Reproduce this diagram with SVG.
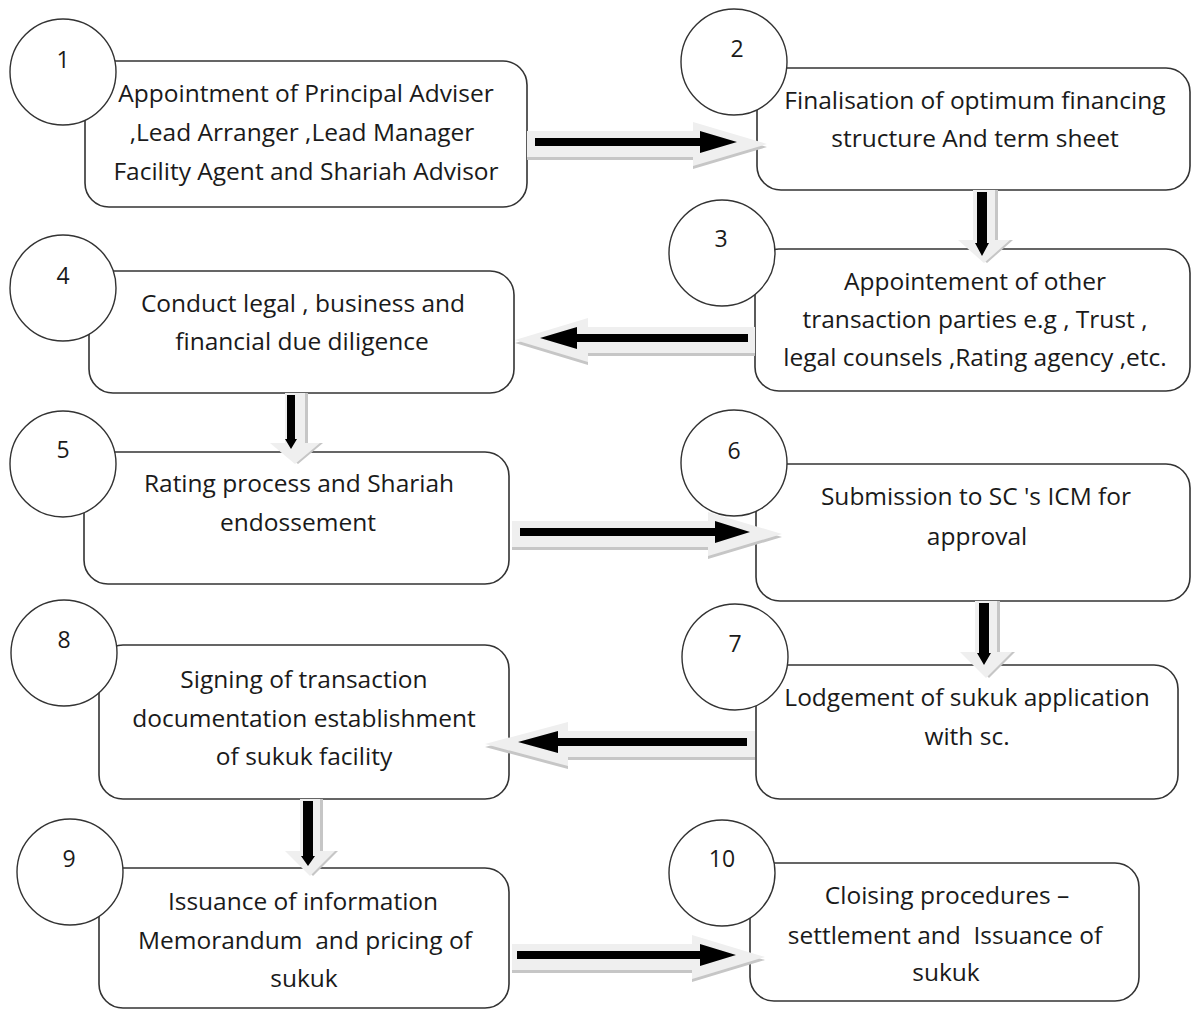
<svg xmlns="http://www.w3.org/2000/svg" xmlns:xlink="http://www.w3.org/1999/xlink" width="1191" height="1009" viewBox="0 0 1191 1009">
<style>
.box{fill:#fff;stroke:#333;stroke-width:1.6}
.circ{fill:#fff;stroke:#333;stroke-width:1.4}
.t{font-family:"Open Sans","Noto Sans",sans-serif;font-size:24.5px;fill:#1a1a1a;text-anchor:middle}
.n{font-family:"Open Sans","Noto Sans",sans-serif;font-size:23px;fill:#1a1a1a;text-anchor:middle}
.sh{fill:#c6c6c6}
.ga{fill:#efefef}
.ba{fill:#000}
</style>
<defs>
<path id="g12" d="M527,131 L693,131 L693,122 L767,144 L693,166 L693,157 L527,157 Z"/>
<path id="g34" d="M755,327 L588,327 L588,318 L515,340 L588,362 L588,353 L755,353 Z"/>
<path id="g56" d="M512,521 L708,521 L708,512 L782,534 L708,556 L708,547 L512,547 Z"/>
<path id="g78" d="M755,731 L568,731 L568,722 L485,744 L568,766 L568,757 L755,757 Z"/>
<path id="g910" d="M512,944 L692,944 L692,935 L765,957 L692,979 L692,970 L512,970 Z"/>
<path id="g23" d="M973,190 L973,240 L958,240 L984,263 L1010,240 L995,240 L995,190 Z"/>
<path id="g45" d="M285,393 L285,443 L270,443 L295,464 L320,443 L305,443 L305,393 Z"/>
<path id="g67" d="M975,601 L975,652 L960,652 L986,678 L1012,652 L997,652 L997,601 Z"/>
<path id="g89" d="M300,799 L300,851 L285,851 L310,876 L335,851 L320,851 L320,799 Z"/>
</defs>

<g id="node1">
<rect class="box" x="85" y="61" width="442" height="146" rx="24"/>
<circle class="circ" cx="63" cy="72" r="53"/>
<text class="n" x="63" y="68">1</text>
<text class="t" x="306" y="102">Appointment of Principal Adviser</text>
<text class="t" x="302" y="141">,Lead Arranger ,Lead Manager</text>
<text class="t" x="306" y="180">Facility Agent and Shariah Advisor</text>
</g>
<g id="node2">
<rect class="box" x="757" y="68" width="433" height="122" rx="24"/>
<circle class="circ" cx="734" cy="62" r="53"/>
<text class="n" x="737" y="57">2</text>
<text class="t" x="975" y="109">Finalisation of optimum financing</text>
<text class="t" x="975" y="147">structure And term sheet</text>
</g>
<g id="node3">
<rect class="box" x="755" y="249" width="435" height="142" rx="24"/>
<circle class="circ" cx="722" cy="253" r="53"/>
<text class="n" x="721" y="247">3</text>
<text class="t" x="975" y="290">Appointement of other</text>
<text class="t" x="975" y="328">transaction parties e.g , Trust ,</text>
<text class="t" x="975" y="366">legal counsels ,Rating agency ,etc.</text>
</g>
<g id="node4">
<rect class="box" x="89" y="271" width="425" height="122" rx="24"/>
<circle class="circ" cx="63" cy="288" r="53"/>
<text class="n" x="63" y="284">4</text>
<text class="t" x="303" y="312">Conduct legal , business and</text>
<text class="t" x="302" y="350">financial due diligence</text>
</g>
<g id="node5">
<rect class="box" x="84" y="452" width="425" height="132" rx="24"/>
<circle class="circ" cx="63" cy="464" r="53"/>
<text class="n" x="63" y="458">5</text>
<text class="t" x="299" y="492">Rating process and Shariah</text>
<text class="t" x="298" y="531">endossement</text>
</g>
<g id="node6">
<rect class="box" x="756" y="464" width="434" height="137" rx="24"/>
<circle class="circ" cx="734" cy="463" r="53"/>
<text class="n" x="734" y="459">6</text>
<text class="t" x="976" y="505">Submission to SC 's ICM for</text>
<text class="t" x="977" y="545">approval</text>
</g>
<g id="node7">
<rect class="box" x="756" y="665" width="422" height="134" rx="24"/>
<circle class="circ" cx="735" cy="657" r="53"/>
<text class="n" x="735" y="652">7</text>
<text class="t" x="967" y="706">Lodgement of sukuk application</text>
<text class="t" x="967" y="745">with sc.</text>
</g>
<g id="node8">
<rect class="box" x="99" y="645" width="410" height="154" rx="24"/>
<circle class="circ" cx="64" cy="653" r="53"/>
<text class="n" x="64" y="648">8</text>
<text class="t" x="304" y="688">Signing of transaction</text>
<text class="t" x="304" y="727">documentation establishment</text>
<text class="t" x="304" y="765">of sukuk facility</text>
</g>
<g id="node9">
<rect class="box" x="99" y="868" width="410" height="140" rx="24"/>
<circle class="circ" cx="70" cy="872" r="53"/>
<text class="n" x="69" y="867">9</text>
<text class="t" x="303" y="910">Issuance of information</text>
<text class="t" x="305" y="949">Memorandum&#160; and pricing of</text>
<text class="t" x="304" y="987">sukuk</text>
</g>
<g id="node10">
<rect class="box" x="750" y="863" width="389" height="138" rx="24"/>
<circle class="circ" cx="722" cy="873" r="53"/>
<text class="n" x="722" y="867">10</text>
<text class="t" x="947" y="904">Cloising procedures –</text>
<text class="t" x="945" y="944">settlement and&#160; Issuance of</text>
<text class="t" x="946" y="981">sukuk</text>
</g>

<g id="connectors">
<use xlink:href="#g12" class="sh" transform="translate(0,3)"/>
<use xlink:href="#g12" class="ga"/>
<path class="ba" d="M535,138 L700,138 L700,131 L737,142 L700,153 L700,146 L535,146 Z"/>

<use xlink:href="#g23" class="sh" transform="translate(3,0)"/>
<use xlink:href="#g23" class="ga"/>
<path class="ba" d="M977,192 L977,243 L975,243 L982,256 L989,243 L987,243 L987,192 Z"/>

<use xlink:href="#g34" class="sh" transform="translate(0,3)"/>
<use xlink:href="#g34" class="ga"/>
<path class="ba" d="M748,334 L577,334 L577,327 L540,338 L577,349 L577,342 L748,342 Z"/>

<use xlink:href="#g45" class="sh" transform="translate(3,0)"/>
<use xlink:href="#g45" class="ga"/>
<path class="ba" d="M287,395 L287,439 L285,439 L291,449 L297,439 L295,439 L295,395 Z"/>

<use xlink:href="#g56" class="sh" transform="translate(0,3)"/>
<use xlink:href="#g56" class="ga"/>
<path class="ba" d="M520,528 L715,528 L715,521 L750,532 L715,543 L715,536 L520,536 Z"/>

<use xlink:href="#g67" class="sh" transform="translate(3,0)"/>
<use xlink:href="#g67" class="ga"/>
<path class="ba" d="M979,603 L979,653 L977,653 L984,665 L991,653 L989,653 L989,603 Z"/>

<use xlink:href="#g78" class="sh" transform="translate(0,3)"/>
<use xlink:href="#g78" class="ga"/>
<path class="ba" d="M747,738 L558,738 L558,731 L518,742 L558,753 L558,746 L747,746 Z"/>

<use xlink:href="#g89" class="sh" transform="translate(3,0)"/>
<use xlink:href="#g89" class="ga"/>
<path class="ba" d="M303,801 L303,856 L301,856 L308,866 L315,856 L313,856 L313,801 Z"/>

<use xlink:href="#g910" class="sh" transform="translate(0,3)"/>
<use xlink:href="#g910" class="ga"/>
<path class="ba" d="M517,951 L700,951 L700,944 L736,955 L700,966 L700,959 L517,959 Z"/>
</g>
</svg>
